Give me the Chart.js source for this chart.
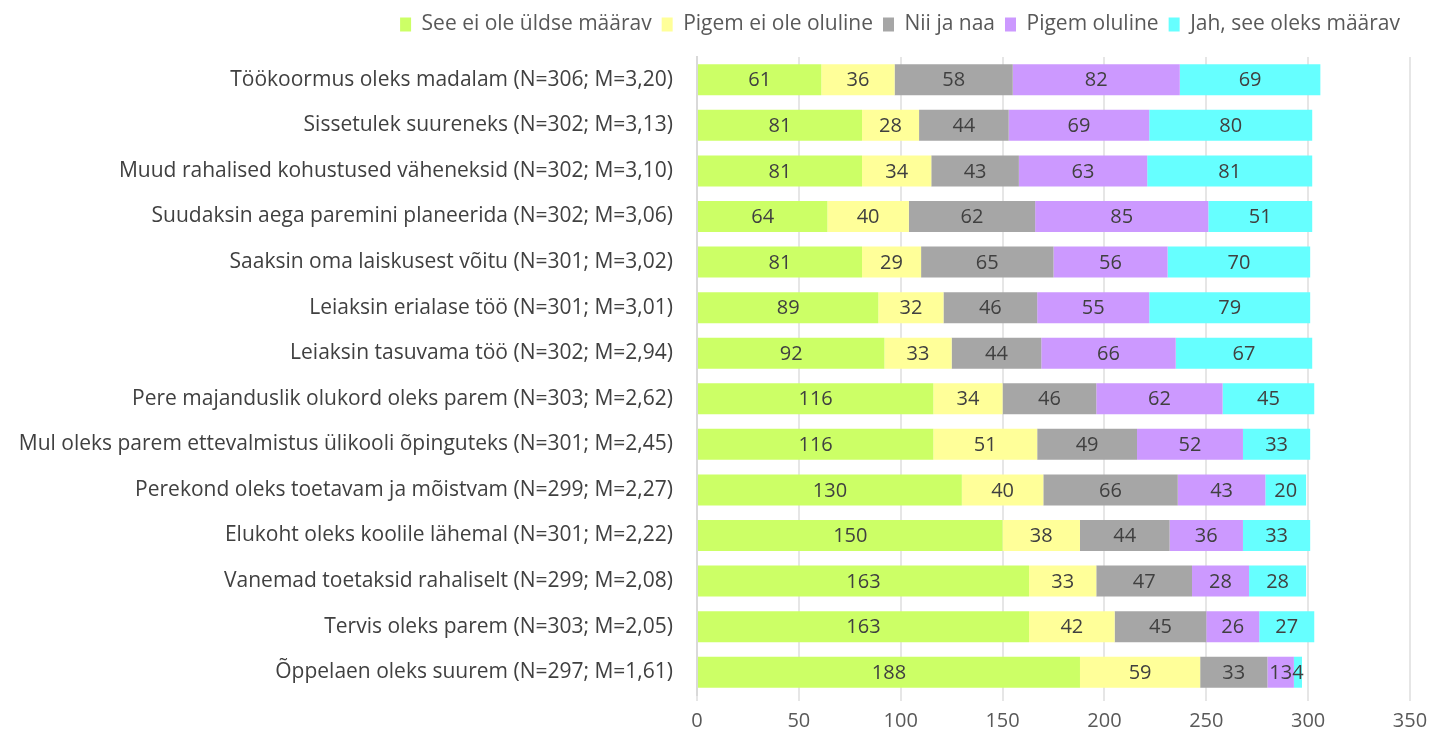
<!DOCTYPE html>
<html>
<head>
<meta charset="utf-8">
<script src="https://cdn.jsdelivr.net/npm/chart.js@4.4.0/dist/chart.umd.min.js"></script>
<style>
  html, body { margin: 0; padding: 0; background: #fff; }
  #wrap { width: 1429px; height: 738px; position: relative; }
</style>
</head>
<body>
<div id="wrap"><canvas id="chart"></canvas></div>
<script>
const CATEGORIES = [
  'Töökoormus oleks madalam (N=306; M=3,20)',
  'Sissetulek suureneks (N=302; M=3,13)',
  'Muud rahalised kohustused väheneksid (N=302; M=3,10)',
  'Suudaksin aega paremini planeerida (N=302; M=3,06)',
  'Saaksin oma laiskusest võitu (N=301; M=3,02)',
  'Leiaksin erialase töö (N=301; M=3,01)',
  'Leiaksin tasuvama töö (N=302; M=2,94)',
  'Pere majanduslik olukord oleks parem (N=303; M=2,62)',
  'Mul oleks parem ettevalmistus ülikooli õpinguteks (N=301; M=2,45)',
  'Perekond oleks toetavam ja mõistvam (N=299; M=2,27)',
  'Elukoht oleks koolile lähemal (N=301; M=2,22)',
  'Vanemad toetaksid rahaliselt (N=299; M=2,08)',
  'Tervis oleks parem (N=303; M=2,05)',
  'Õppelaen oleks suurem (N=297; M=1,61)',
];

const SERIES_NAMES = [
  'See ei ole üldse määrav',
  'Pigem ei ole oluline',
  'Nii ja naa',
  'Pigem oluline',
  'Jah, see oleks määrav',
];

const NOT_AT_ALL = [61, 81, 81, 64, 81, 89, 92, 116, 116, 130, 150, 163, 163, 188];
const RATHER_NOT = [36, 28, 34, 40, 29, 32, 33, 34, 51, 40, 38, 33, 42, 59];
const NEUTRAL    = [58, 44, 43, 62, 65, 46, 44, 46, 49, 66, 44, 47, 45, 33];
const RATHER_YES = [82, 69, 63, 85, 56, 55, 66, 62, 52, 43, 36, 28, 26, 13];
const DECISIVE   = [69, 80, 81, 51, 70, 79, 67, 45, 33, 20, 33, 28, 27, 4];

const X_TICKS = [0, 50, 100, 150, 200, 250, 300, 350];

const COLORS = ['#ccff66', '#ffff99', '#a6a6a6', '#cc99ff', '#66ffff'];
const FONT = '"Open Sans", Lato, sans-serif';

// value labels centred inside each segment
const barLabels = {
  id: 'barLabels',
  afterDatasetsDraw(chart) {
    const ctx = chart.ctx;
    ctx.save();
    ctx.font = '20px ' + FONT;
    ctx.fillStyle = '#404040';
    ctx.textAlign = 'center';
    ctx.textBaseline = 'middle';
    chart.data.datasets.forEach((ds, i) => {
      chart.getDatasetMeta(i).data.forEach((bar, j) => {
        const p = bar.getProps(['x', 'y', 'base'], true);
        ctx.fillText(String(ds.data[j]), (p.x + p.base) / 2, p.y + 1);
      });
    });
    ctx.restore();
  }
};

// a bit more room under the legend
const legendGap = {
  id: 'legendGap',
  beforeInit(chart) {
    const fit = chart.legend.fit;
    chart.legend.fit = function () { fit.call(this); this.height += 12; };
  }
};

const seriesData = [NOT_AT_ALL, RATHER_NOT, NEUTRAL, RATHER_YES, DECISIVE];

new Chart(document.getElementById('chart'), {
  type: 'bar',
  data: {
    labels: CATEGORIES,
    datasets: SERIES_NAMES.map((name, i) => ({
      label: name,
      data: seriesData[i],
      backgroundColor: COLORS[i],
      borderWidth: 0,
      categoryPercentage: 1,
      barPercentage: 0.68,
    })),
  },
  options: {
    indexAxis: 'y',
    responsive: true,
    maintainAspectRatio: false,
    animation: false,
    layout: { padding: { top: 4, right: 19, bottom: 0, left: 0 } },
    plugins: {
      legend: {
        position: 'top',
        align: 'end',
        labels: {
          font: { size: 21, family: FONT },
          color: '#595959',
          boxWidth: 11, boxHeight: 14,
          padding: 10,
        },
      },
      tooltip: { enabled: false },
    },
    scales: {
      x: {
        stacked: true,
        min: 0, max: 350,
        afterBuildTicks: axis => { axis.ticks = X_TICKS.map(v => ({ value: v })); },
        afterFit: axis => { axis.height = 43; axis.paddingRight = 0; },
        grid: { color: '#e6e6e6', lineWidth: 2, drawTicks: true, tickLength: 6 },
        border: { display: false },
        ticks: { font: { size: 20, family: FONT }, color: '#595959', padding: 8 },
      },
      y: {
        stacked: true,
        afterFit: axis => { axis.width = 697; },
        grid: { display: false },
        border: { display: true, color: '#d9d9d9', width: 2 },
        ticks: { font: { size: 21, family: FONT }, color: '#404040', padding: 16 },
      },
    },
  },
  plugins: [barLabels, legendGap],
});
</script>
</body>
</html>
